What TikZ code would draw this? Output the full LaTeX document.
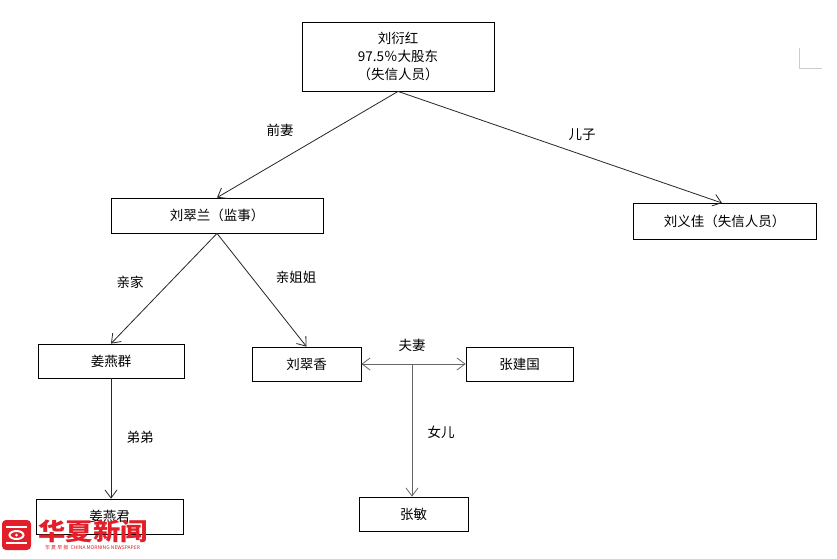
\documentclass[tikz,border=0pt]{standalone}
\usepackage{fontspec}
\newfontfamily\cjk{Noto Sans CJK SC}
\usetikzlibrary{arrows.meta}
\definecolor{wmred}{RGB}{226,30,40}
\tikzset{
  box/.style={draw=black, line width=0.8pt, fill=white, inner sep=0pt, font=\cjk\fontsize{13.5}{18}\selectfont, align=center},
  tip/.tip={Straight Barb[length=8pt,width=12pt,line width=0.8pt]},
  conn/.style={draw=black!85, line width=0.8pt, -tip},
  lbl/.style={font=\cjk\fontsize{13.5}{16}\selectfont, inner sep=1pt}
}
\begin{document}
\begin{tikzpicture}[x=1pt,y=-1pt]
\useasboundingbox[fill=white] (0,0) rectangle (837,558);
% corner mark
\draw[black!20, line width=0.8pt] (799,48) -- (799,68) -- (822,68);
% boxes
\node[box, minimum width=192pt, minimum height=69pt] (top) at (398,56.5) {刘衍红\\97.5％大股东\\（失信人员）};
\node[box, minimum width=212pt, minimum height=35pt] (lan) at (217,215.5) {刘翠兰（监事）};
\node[box, minimum width=183pt, minimum height=36pt] (jia) at (724.5,221) {刘义佳（失信人员）};
\node[box, minimum width=146pt, minimum height=34pt] (qun) at (111,361) {姜燕群};
\node[box, minimum width=109pt, minimum height=34pt] (xiang) at (306.5,364) {刘翠香};
\node[box, minimum width=107pt, minimum height=34pt] (guo) at (519.5,364) {张建国};
\node[box, minimum width=147pt, minimum height=35pt] (jun) at (109.5,516.5) {姜燕君};
\node[box, minimum width=109pt, minimum height=34pt] (min) at (413.5,514) {张敏};
% connectors
\coordinate (jiaTip) at (722,203);
\draw[conn] (top.south) -- (lan.north);
\draw[conn] (top.south) -- (jiaTip);
\draw[conn] (lan.south) -- (qun.north);
\draw[conn] (lan.south) -- (xiang.north);
\draw[conn] (qun.south) -- (qun.south |- jun.north);
\draw[conn, draw=black!60, tip-tip] (xiang.east) -- (guo.west);
\coordinate (mid) at (412,364);
\draw[conn, draw=black!60] (mid) -- (mid |- min.north);
% labels
\node[lbl] (l1) at (280,130) {前妻};
\node[lbl] (l2) at (582,135) {儿子};
\node[lbl] (l3) at (130,282) {亲家};
\node[lbl] (l4) at (296,277) {亲姐姐};
\node[lbl] (l5) at (412,345) {夫妻};
\node[lbl] (l6) at (140,437) {弟弟};
\node[lbl] (l7) at (441,432) {女儿};
% watermark
\fill[wmred, rounded corners=4pt] (2,520) rectangle (31,550);
\fill[white] (6,526) rectangle (27,528);
\fill[white] (6,542) rectangle (27,544);
\draw[white, line width=2pt] (16.5,535) ellipse (7pt and 4pt);
\fill[white] (16.5,535) circle (1.5pt);
\node[font=\cjk\bfseries\fontsize{24}{24}\selectfont, text=wmred, inner sep=0pt, xscale=1.14] (wm) at (93,531) {华夏新闻};
\node[font=\cjk\fontsize{5}{5}\selectfont, text=wmred, inner sep=0pt] (wm2) at (92.5,548) {华 夏 早 报\ \ CHINA MORNING NEWSPAPER};
\end{tikzpicture}
\end{document}
